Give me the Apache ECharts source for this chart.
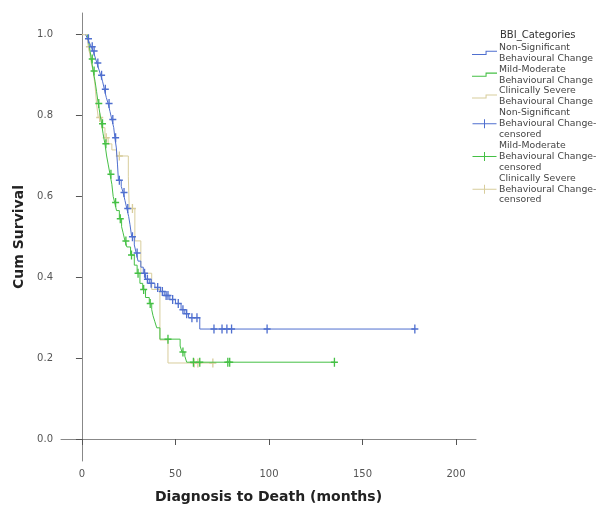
<!DOCTYPE html>
<html>
<head>
<meta charset="utf-8">
<title>Kaplan-Meier: BBI_Categories</title>
<script src="https://cdn.jsdelivr.net/npm/echarts@6.0.0/dist/echarts.min.js"></script>
<style>
  html, body { margin: 0; padding: 0; background: #fff; }
  #chart { width: 611px; height: 505px; }
</style>
</head>
<body>
<div id="chart"></div>
<script>
// step points (time in months, survival after the step), last entry = end of follow-up
const nonSigTimes = [2, 3, 4, 5, 6, 7, 8, 9, 10, 11, 12, 13, 14, 15, 16, 17, 17.6, 18.4, 19, 19.5,
  21, 22, 23, 24, 25, 25.7, 26.6, 28, 29, 30, 31.5, 32.8, 34, 36, 39, 42, 44, 47, 50, 53, 55, 57, 63, 178];
const nonSigSurv = [1.0, 0.99, 0.98, 0.97, 0.96, 0.945, 0.93, 0.915, 0.9, 0.885, 0.865, 0.845, 0.83, 0.81, 0.79, 0.77, 0.745, 0.72, 0.68, 0.64,
  0.625, 0.61, 0.59, 0.57, 0.55, 0.53, 0.5, 0.48, 0.46, 0.44, 0.425, 0.41, 0.395, 0.385, 0.375, 0.365, 0.355, 0.345, 0.335, 0.32, 0.31, 0.3, 0.272, 0.272];
const nonSigCensored = [3.5, 5.5, 6.5, 8.5, 10.5, 12.5, 14.5, 16.5, 18, 20, 22.5, 24.5, 27, 29.5, 33.5, 35, 37,
  40.5, 43, 45, 46, 48.5, 51.5, 54, 56, 58.8, 61.5, 70.6, 74.9, 77.5, 80, 99, 178];

const mildTimes = [3, 4, 5, 6, 7, 7.8, 8.7, 9.6, 10.5, 11.3, 12.3, 13.2, 14, 15, 16, 16.7, 17.5, 18.5, 20, 21.2,
  22, 23, 24, 26, 28, 29.5, 31, 32.5, 34, 36, 37.3, 38, 39, 40, 41.7, 52.5, 53.5, 55, 56, 135];
const mildSurv = [1.0, 0.97, 0.94, 0.91, 0.885, 0.86, 0.83, 0.805, 0.78, 0.755, 0.73, 0.7, 0.68, 0.655, 0.63, 0.6, 0.585, 0.565, 0.545, 0.525,
  0.51, 0.49, 0.475, 0.455, 0.43, 0.41, 0.385, 0.37, 0.35, 0.335, 0.32, 0.305, 0.29, 0.275, 0.247, 0.23, 0.215, 0.205, 0.19, 0.19];
const mildCensored = [5.5, 6.5, 9, 11, 12.8, 15.5, 18, 20.5, 23.5, 26.5, 30, 33, 36.5, 46, 54, 59.6, 63, 78, 79, 135];

const severeTimes = [0, 3, 3.4, 4.3, 5, 6, 7, 7.8, 8.7, 10.5, 12.3, 14, 16, 18.5, 24.8, 25.3, 28.3, 31.5, 37.3, 41.7, 46, 70];
const severeSurv = [1.0, 0.985, 0.97, 0.95, 0.93, 0.91, 0.875, 0.83, 0.795, 0.77, 0.745, 0.73, 0.715, 0.7, 0.65, 0.57, 0.49, 0.41, 0.37, 0.245, 0.188, 0.188];
const severeCensored = [4, 9.5, 13, 20, 27, 60, 62, 70];

const groupNames = ['Non-Significant', 'Mild-Moderate', 'Clinically Severe'];
const xTicks = [0, 50, 100, 150, 200];
const yTicks = [0, 0.2, 0.4, 0.6, 0.8, 1.0];

const groups = [
  { times: nonSigTimes, surv: nonSigSurv, cens: nonSigCensored, color: '#4f6fcf' },
  { times: mildTimes, surv: mildSurv, cens: mildCensored, color: '#45c045' },
  { times: severeTimes, surv: severeSurv, cens: severeCensored, color: '#d8cd9c' }
];

function survAt(times, surv, t) {
  let s = surv[0];
  for (let i = 0; i < times.length; i++) {
    if (times[i] <= t) s = surv[i];
  }
  return s;
}

const stepIcon = 'path://M0,3H13V0H24V1H14V4H0Z';
const plusIcon = 'path://M0,4H11.5V0H12.5V4H24V5H12.5V9H11.5V5H0Z';
const plusMark = 'path://M3.25,0h1.5v3.75h3.25v1.5h-3.25v3.75h-1.5v-3.75h-3.25v-1.5h3.25z';

const series = [];
const legendData = [];
groups.forEach((g, i) => {
  const name = groupNames[i] + '\nBehavioural Change';
  series.push({
    name: name,
    type: 'line',
    step: 'end',
    symbol: 'none',
    z: 10 - i,
    lineStyle: { color: g.color, width: 1 },
    itemStyle: { color: g.color },
    data: g.times.map((t, k) => [t, g.surv[k]])
  });
  legendData.push({ name: name, icon: stepIcon, itemStyle: { color: g.color, borderWidth: 0 } });
});
groups.forEach((g, i) => {
  const name = groupNames[i] + '\nBehavioural Change-\ncensored';
  series.push({
    name: name,
    type: 'scatter',
    symbol: plusMark,
    symbolSize: [7, 9],
    z: 10 - i,
    itemStyle: { color: g.color, opacity: 1 },
    data: g.cens.map(t => [t, survAt(g.times, g.surv, t)])
  });
  legendData.push({ name: name, icon: plusIcon, itemStyle: { color: g.color, borderWidth: 0, opacity: 1 } });
});

const chart = echarts.init(document.getElementById('chart'));
chart.setOption({
  animation: false,
  backgroundColor: '#fff',
  textStyle: { fontFamily: 'DejaVu Sans' },
  title: {
    text: 'BBI_Categories',
    left: 500,
    top: 30,
    padding: 0,
    textStyle: { fontFamily: 'DejaVu Sans', fontSize: 10, fontWeight: 'normal', color: '#333' }
  },
  legend: {
    orient: 'vertical',
    left: 472,
    top: 42,
    padding: 0,
    itemWidth: 25,
    itemHeight: 9,
    itemGap: 0,
    selectedMode: false,
    textStyle: { fontFamily: 'DejaVu Sans', fontSize: 9.3, lineHeight: 10.9, color: '#444', padding: [0, 0, 0, -3] },
    data: legendData
  },
  grid: { left: 61, top: 13, width: 415, height: 448, containLabel: false, outerBoundsMode: 'none' },
  xAxis: {
    type: 'value',
    min: -11.2,
    max: 210.7,
    name: 'Diagnosis to Death (months)',
    nameLocation: 'middle',
    nameGap: 29,
    nameTextStyle: { fontFamily: 'DejaVu Sans', fontWeight: 'bold', fontSize: 14, color: '#222' },
    axisLine: { show: true, lineStyle: { color: '#888', width: 1 } },
    axisTick: { show: true, length: 6, lineStyle: { color: '#555' }, customValues: xTicks },
    axisLabel: { color: '#555', fontSize: 10, margin: 8, customValues: xTicks },
    splitLine: { show: false }
  },
  yAxis: {
    type: 'value',
    min: -0.0544,
    max: 1.0537,
    name: 'Cum Survival',
    nameLocation: 'middle',
    nameGap: 29,
    nameTextStyle: { fontFamily: 'DejaVu Sans', fontWeight: 'bold', fontSize: 14, color: '#222' },
    axisLine: { show: true, lineStyle: { color: '#888', width: 1 } },
    axisTick: { show: true, length: 6, lineStyle: { color: '#555' }, customValues: yTicks },
    axisLabel: { color: '#555', fontSize: 10, margin: 8, customValues: yTicks, formatter: v => v.toFixed(1) },
    splitLine: { show: false }
  },
  series: series
});
</script>
</body>
</html>
